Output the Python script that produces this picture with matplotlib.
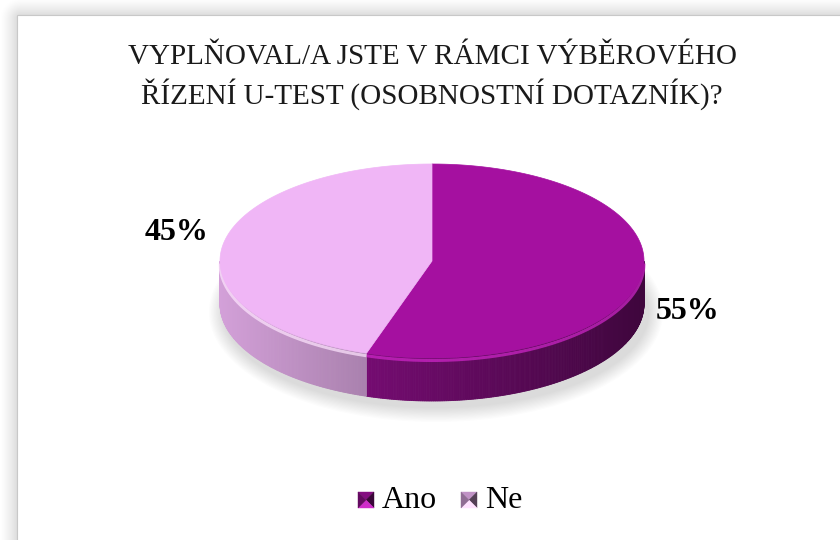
import numpy as np
import matplotlib
matplotlib.use("Agg")
import matplotlib.pyplot as plt
from matplotlib.patches import Polygon, Ellipse, Rectangle

# data
categories = ["Ano", "Ne"]
values = [55, 45]
title_lines = ["VYPLŇOVAL/A JSTE V RÁMCI VÝBĚROVÉHO",
               "ŘÍZENÍ U-TEST (OSOBNOSTNÍ DOTAZNÍK)?"]
top_colors = [(0.647, 0.063, 0.627), (0.941, 0.714, 0.965)]

plt.rcParams['font.family'] = ['Liberation Serif', 'DejaVu Serif']

W, H = 840, 540
fig = plt.figure(figsize=(W / 100, H / 100), dpi=100)
ax = fig.add_axes([0, 0, 1, 1])
ax.set_xlim(0, W)
ax.set_ylim(H, 0)
ax.axis('off')

## frame shadow
bx, by = 17, 15
yy, xx = np.mgrid[0:H, 0:W]
dx = np.clip(bx + 3 - xx, 0, None)
dy = np.clip(by + 3 - yy, 0, None)
d = np.hypot(dx, dy)
shade = np.clip(1 - d / 20.0, 0, 1) ** 1.3
gray = 1 - 0.17 * shade
img = np.dstack([gray, gray, gray])
ax.imshow(img, extent=(0, W, H, 0), zorder=0, interpolation='bilinear')
ax.add_patch(Rectangle((bx, by), W, H, facecolor='white', edgecolor='#c8c8c8', lw=0.8, zorder=1))

## pie geometry
cx, cy = 432, 261
rx, ry = 212, 97
depth = 43


def pt(theta, dz=0.0):
    t = np.radians(theta)
    return cx + rx * np.cos(t), cy - ry * np.sin(t) + dz


# shadow under the pie
for k in range(12):
    ax.add_patch(Ellipse((cx + 4, cy + depth + 8), 2 * rx + 30 - 2.5 * k, 2 * ry + 26 - 2.5 * k,
                         facecolor='#808080', edgecolor='none', alpha=0.025, zorder=2))

# slice angles, clockwise from 12 o'clock
fracs = np.array(values, dtype=float) / sum(values)
starts = 90 - 360 * np.concatenate([[0], np.cumsum(fracs)[:-1]])
ends = starts - 360 * fracs


def side_factor(x):
    return 0.88 - 0.50 * (x - (cx - rx)) / (2 * rx)


# side walls (visible between -180 and 0 degrees)
for (s, e), col in zip(zip(starts, ends), top_colors):
    lo, hi = e, s
    for shift in (0, -360, 360):
        a = max(lo + shift, -180)
        b = min(hi + shift, 0)
        if a >= b:
            continue
        ths = np.linspace(a, b, int((b - a) * 2) + 2)
        for t0, t1 in zip(ths[:-1], ths[1:]):
            p0 = pt(t0)
            p1 = pt(t1)
            xm = (p0[0] + p1[0]) / 2
            f = side_factor(xm)
            c = tuple(np.clip(np.array(col) * f, 0, 1))
            poly = [p0, p1, (p1[0], p1[1] + depth), (p0[0], p0[1] + depth)]
            ax.add_patch(Polygon(poly, closed=True, facecolor=c, edgecolor=c, lw=0.6, zorder=3))
        # light rim along the top edge of the wall
        rim = [pt(t, 2.5) for t in ths]
        rimc = tuple(np.clip(np.array(col) * 1.15 + 0.08, 0, 1))
        ax.plot([p[0] for p in rim], [p[1] for p in rim], color=rimc, lw=2.2, alpha=0.7,
                solid_capstyle='butt', zorder=4)

# top faces
for (s, e), col in zip(zip(starts, ends), top_colors):
    ths = np.linspace(s, e, 300)
    poly = [(cx, cy)] + [pt(t) for t in ths]
    ax.add_patch(Polygon(poly, closed=True, facecolor=col, edgecolor=col, lw=0.5, zorder=5))

# percentage labels, placed from mid angle of each slice
for (s, e), v in zip(zip(starts, ends), values):
    mid = np.radians((s + e) / 2)
    lx = cx + rx * 1.22 * np.cos(mid)
    ly = cy + depth * 0.25 - ry * 2.6 * np.sin(mid)
    ax.text(lx, ly, f"{v}%", ha='center', va='center', fontsize=23, fontweight='bold',
            color='black', zorder=6)

# title
ax.text(cx, 57, title_lines[0], ha='center', va='center', fontsize=21, color='#1a1a1a', zorder=6)
ax.text(cx, 94, title_lines[1], ha='center', va='center', fontsize=21, color='#1a1a1a', zorder=6)


# legend with bevelled squares
def bevel_square(x0, y0, size, col):
    col = np.array(col)
    x1, y1 = x0 + size, y0 + size
    xc, yc = x0 + size / 2, y0 + size / 2
    faces = [
        ([(x0, y0), (x1, y0), (xc, yc)], np.clip(col * 0.8, 0, 1)),
        ([(x1, y0), (x1, y1), (xc, yc)], np.clip(col * 0.35, 0, 1)),
        ([(x1, y1), (x0, y1), (xc, yc)], np.clip(col * 1.1 + 0.1, 0, 1)),
        ([(x0, y1), (x0, y0), (xc, yc)], np.clip(col * 0.6, 0, 1)),
    ]
    for pts, c in faces:
        ax.add_patch(Polygon(pts, closed=True, facecolor=c, edgecolor=c, lw=0.3, zorder=6))


leg_x = [358, 461]
for lab, col, x in zip(categories, top_colors, leg_x):
    bevel_square(x, 492, 16, col)
    ax.text(x + 24, 500, lab, ha='left', va='center', fontsize=23, color='black', zorder=6)

fig.savefig("out.png", dpi=100)
